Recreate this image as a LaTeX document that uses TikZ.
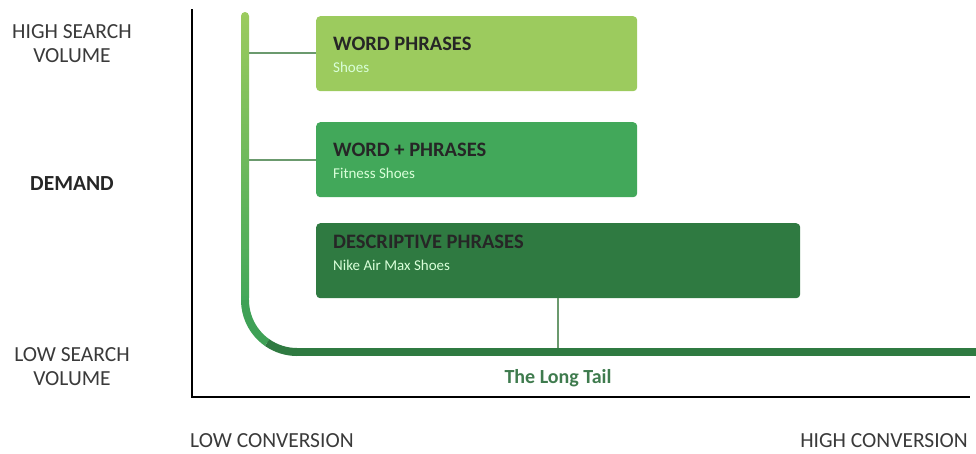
\documentclass[tikz,border=0pt]{standalone}
\usepackage{fontspec}
\setmainfont{Carlito}
\usetikzlibrary{calc}
\definecolor{gLight}{HTML}{9CCB5E}
\definecolor{gMid}{HTML}{42A85A}
\definecolor{gDark}{HTML}{2F7A41}
\definecolor{gLine}{HTML}{6B9A6E}
\definecolor{txtGrey}{HTML}{3A3A3A}
\tikzset{
  phrasebox/.style={rounded corners=4pt, minimum height=75pt, inner sep=0pt, draw=none},
  ttl/.style={anchor=base west, font=\bfseries\fontsize{20.5}{22}\selectfont, text=black!85, inner sep=0pt},
  sub/.style={anchor=base west, font=\fontsize{15}{17}\selectfont, text=white!85!green, inner sep=0pt},
  axlabel/.style={font=\fontsize{21.5}{24}\selectfont, text=txtGrey, align=center, inner sep=0pt},
  link/.style={draw=gLine, line width=2pt},
  axis/.style={draw=black, line width=2.5pt}
}
\begin{document}
\begin{tikzpicture}[x=1pt,y=-1pt]
\useasboundingbox (0,0) rectangle (976,453);
% axes
\coordinate (atop) at (192,9);
\coordinate (aorig) at (192,397);
\coordinate (aright) at (970,397);
\draw[axis] (atop) -- (aorig) -- (aright);
% green curve
\shade[top color=gLight, bottom color=gMid, rounded corners=4pt] (241,12) rectangle (249,302);
\draw[fill=gMid, draw=none] (241,296) rectangle (249,301);
\draw[line width=8pt, gMid!85!gDark] (245,300) arc[start angle=180, end angle=125, radius=52];
\draw[line width=8pt, gDark] ($(297,300)+(125:52)$) arc[start angle=125, end angle=90, radius=52];
\coordinate (tailstart) at (297,352);
\coordinate (tailend) at (976,352);
\draw[line width=8pt, gDark] (tailstart) -- (tailend);
% boxes
\node[phrasebox, fill=gLight, minimum width=321pt, anchor=north west] (b1) at (316,16) {};
\node[phrasebox, fill=gMid, minimum width=321pt, anchor=north west] (b2) at (316,122) {};
\node[phrasebox, fill=gDark, minimum width=484pt, anchor=north west] (b3) at (316,223) {};
\node[ttl] (t1) at ($(b1.north west)+(17,34)$) {WORD PHRASES};
\node[sub] (s1) at ($(b1.north west)+(17,56)$) {Shoes};
\node[ttl] (t2) at ($(b2.north west)+(17,34)$) {WORD + PHRASES};
\node[sub] (s2) at ($(b2.north west)+(17,56)$) {Fitness Shoes};
\node[ttl] (t3) at ($(b3.north west)+(17,25)$) {DESCRIPTIVE PHRASES};
\node[sub] (s3) at ($(b3.north west)+(17,47)$) {Nike Air Max Shoes};
% connectors
\coordinate (c1) at (249,53);
\coordinate (c2) at (249,160);
\draw[link] (c1) -- (b1.west |- c1);
\draw[link] (c2) -- (b2.west |- c2);
\coordinate (c3) at (b3.south |- tailstart);
\draw[link] (b3.south) -- ($(c3)+(0,-4)$);
% labels
\node[axlabel] (hsv) at (72,44) {HIGH SEARCH\\VOLUME};
\node[axlabel, font=\bfseries\fontsize{21.5}{24}\selectfont, text=black!85] (dem) at (72,184) {DEMAND};
\node[axlabel] (lsv) at (72,367) {LOW SEARCH\\VOLUME};
\node[axlabel, anchor=west] (lc) at (190,441) {LOW CONVERSION};
\node[axlabel, anchor=east] (hc) at (968,441) {HIGH CONVERSION};
\node[font=\bfseries\fontsize{20}{22}\selectfont, text=gDark!80!gray, inner sep=0pt] (lt) at (558,378) {The Long Tail};
\end{tikzpicture}
\end{document}
